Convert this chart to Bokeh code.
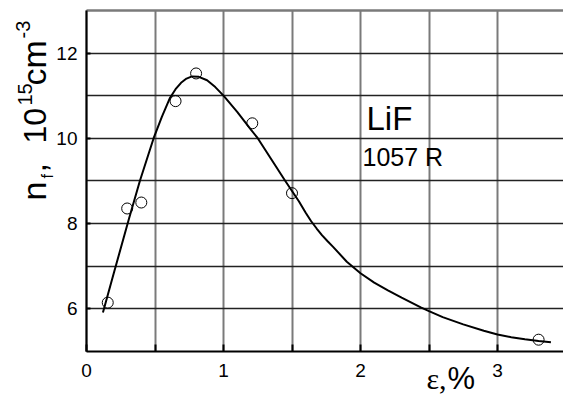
import math
from bokeh.plotting import figure
from bokeh.models import Range1d, FixedTicker, Label, Grid
from bokeh.embed import file_html
from bokeh.resources import INLINE

# ---- data ----
pts_x = [0.155, 0.297, 0.40, 0.65, 0.80, 1.21, 1.50, 3.30]
pts_y = [6.14, 8.35, 8.49, 10.87, 11.52, 10.35, 8.71, 5.27]

curve_x = [0.12, 0.2, 0.31, 0.39, 0.49, 0.55, 0.61, 0.65, 0.69, 0.73, 0.77, 0.82, 0.88, 0.94,
           1.0, 1.1, 1.2, 1.25, 1.35, 1.45, 1.55, 1.6, 1.64, 1.68, 1.72, 1.76, 1.8, 1.9, 2.0,
           2.1, 2.2, 2.3, 2.44, 2.5, 2.6, 2.75, 2.9, 3.0, 3.1, 3.2, 3.3, 3.39]
curve_y = [5.91, 6.84, 8.11, 9.0, 10.0, 10.5, 10.95, 11.15, 11.3, 11.4, 11.45, 11.44, 11.36, 11.2,
           11.0, 10.62, 10.2, 10.0, 9.5, 9.0, 8.52, 8.25, 8.05, 7.88, 7.72, 7.58, 7.45, 7.1, 6.83,
           6.61, 6.43, 6.26, 6.03, 5.94, 5.8, 5.63, 5.48, 5.39, 5.33, 5.28, 5.24, 5.21]

x_ticks = [0, 1, 2, 3]
x_minor = [0.5, 1.5, 2.5]
y_ticks = [6, 8, 10, 12]
y_minor = [7, 9, 11]
y_top = [13]

# ---- layout: frame covers the canvas; axes sit at fixed data locations ----
W, H = 563, 396
AX_LEFT_PX, AX_BOTTOM_PX = 86.0, 350.7
PX_PER_X, PX_PER_Y = 137.0, 42.6
X_START = -AX_LEFT_PX / PX_PER_X
X_END = (W - AX_LEFT_PX) / PX_PER_X
Y_START = 5.0 - (H - AX_BOTTOM_PX) / PX_PER_Y
Y_END = 5.0 + AX_BOTTOM_PX / PX_PER_Y
XA0, YA0, YA1 = 0.0, 5.0, 13.0

p = figure(width=W, height=H, output_backend="svg", toolbar_location=None,
           x_range=Range1d(X_START, X_END), y_range=Range1d(Y_START, Y_END),
           min_border=0, min_border_left=0, min_border_right=0,
           min_border_top=0, min_border_bottom=0)
p.outline_line_color = None
p.background_fill_color = "white"
p.border_fill_color = "white"

FONT = "Liberation Sans"

p.xaxis.fixed_location = YA0
p.yaxis.fixed_location = XA0
p.xaxis.bounds = (XA0, X_END)
p.yaxis.bounds = (YA0, YA1)
p.xaxis.ticker = FixedTicker(ticks=x_ticks, minor_ticks=x_minor)
p.yaxis.ticker = FixedTicker(ticks=y_ticks, minor_ticks=y_minor)
for ax in (p.xaxis, p.yaxis):
    ax.axis_line_color = "black"
    ax.axis_line_width = 2
    ax.major_tick_line_color = "black"
    ax.minor_tick_line_color = "black"
    ax.major_tick_line_width = 2
    ax.minor_tick_line_width = 2
    ax.major_tick_out = 0
    ax.minor_tick_out = 0
    ax.major_label_text_font = FONT
    ax.major_label_text_font_size = "19px"
    ax.major_label_text_color = "black"
p.xaxis.major_tick_in = 7
p.xaxis.minor_tick_in = 7
p.yaxis.major_tick_in = 4
p.yaxis.minor_tick_in = 0
p.xaxis.major_label_standoff = 13
p.yaxis.major_label_standoff = 9

# grid
has_cb = "cross_bounds" in Grid.properties()
p.xgrid.grid_line_color = "#7a7a7a"
p.xgrid.grid_line_width = 2
p.xgrid.minor_grid_line_color = "#7a7a7a"
p.xgrid.minor_grid_line_width = 2
p.ygrid.grid_line_color = "#222222"
p.ygrid.grid_line_width = 1.6
p.ygrid.minor_grid_line_color = "#222222"
p.ygrid.minor_grid_line_width = 1.6
if has_cb:
    p.xgrid.cross_bounds = (YA0, YA1)
    p.ygrid.cross_bounds = (XA0, X_END)
top_grid = Grid(dimension=1, ticker=FixedTicker(ticks=y_top), bounds=(YA0, YA1),
                grid_line_color="#7a7a7a", grid_line_width=2.5)
if has_cb:
    top_grid.cross_bounds = (XA0, X_END)
p.add_layout(top_grid)

# curve and points
p.line(curve_x, curve_y, line_color="black", line_width=2)
p.scatter(pts_x, pts_y, marker="circle", size=11, fill_color=None,
          line_color="black", line_width=1)

# helpers to place text by pixel position (baseline) on the canvas
def dx(px):
    return X_START + px / W * (X_END - X_START)
def dy(py):
    return Y_END - py / H * (Y_END - Y_START)

BASE_K = 0.33
def lab(text, px, py, size, font=FONT, angle=0.0):
    if angle == 0.0:
        py = py - BASE_K * size
    else:
        px = px - BASE_K * size
    p.add_layout(Label(x=dx(px), y=dy(py), text=text, text_font=font,
                       text_font_size=f"{size}px", text_color="black",
                       text_align="left", text_baseline="alphabetic", angle=angle))

# LiF annotation
lab("LiF", 366, 129, 33)
lab("1057 R", 362, 165, 25)

# x-axis label
lab("\u03b5,", 426, 388, 30, font="Liberation Serif")
lab("%", 447, 388, 31)

# y-axis label (rotated pieces)
R = math.pi / 2
lab("n", 45, 200, 34, angle=R)
lab("f", 52, 178, 16, angle=R)
lab(",", 45, 172, 34, angle=R)
lab("10", 45, 143, 32, angle=R)
lab("15", 31, 105, 20, angle=R)
lab("cm", 45, 85, 34, angle=R)
lab("-3", 29, 38, 20, angle=R)

open("out.html", "w").write(file_html(p, INLINE))
